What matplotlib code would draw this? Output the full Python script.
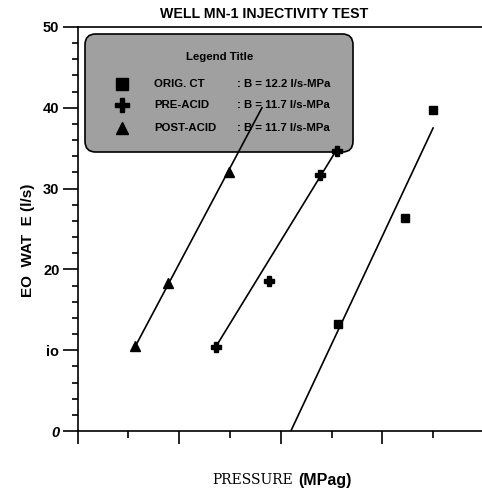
import matplotlib.pyplot as plt
from matplotlib.patches import FancyBboxPatch
from matplotlib.ticker import MultipleLocator

# data (pressure in MPag, flow rate in l/s)
orig_p = [5.12, 6.45, 6.99]
orig_q = [13.2, 26.4, 39.7]
orig_fit_p = [4.20, 7.00]
orig_fit_q = [0.0, 37.5]

pre_p = [2.73, 3.76, 4.78, 5.10]
pre_q = [10.4, 18.6, 31.7, 34.7]
pre_fit_p = [2.73, 5.12]
pre_fit_q = [10.5, 35.0]

post_p = [1.14, 1.79, 2.98]
post_q = [10.5, 18.35, 32.1]
post_fit_p = [1.14, 3.63]
post_fit_q = [10.5, 40.0]

series_names = ["ORIG. CT", "PRE-ACID", "POST-ACID"]
slope_texts = [": B = 12.2 l/s-MPa", ": B = 11.7 l/s-MPa", ": B = 11.7 l/s-MPa"]
ytick_vals = [0, 10, 20, 30, 40, 50]
ytick_labels = ["0", "io", "20", "30", "40", "50"]

W, H = 482, 490


def fx(px):
    return px / W


def fy(py):
    return 1 - py / H


plt.rcParams["font.family"] = ["Liberation Sans", "DejaVu Sans"]

fig = plt.figure(figsize=(W / 100, H / 100), dpi=100)
ax = fig.add_axes([fx(77.5), fy(431), 406.4 / W, 404 / H])

ax.plot(orig_fit_p, orig_fit_q, color="black", lw=1.2, zorder=3)
ax.plot(pre_fit_p, pre_fit_q, color="black", lw=1.2, zorder=3)
ax.plot(post_fit_p, post_fit_q, color="black", lw=1.2, zorder=3)
ax.plot(orig_p, orig_q, "s", color="black", ms=5.8, ls="none", zorder=4)
ax.plot(pre_p, pre_q, "P", color="black", ms=7, ls="none", zorder=4)
ax.plot(post_p, post_q, "^", color="black", ms=7, ls="none", zorder=4)

ax.set_xlim(0, 8)
ax.set_ylim(0, 50)
ax.xaxis.set_major_locator(MultipleLocator(2))
ax.xaxis.set_minor_locator(MultipleLocator(1))
ax.yaxis.set_minor_locator(MultipleLocator(2))
ax.set_yticks(ytick_vals)
ax.set_yticklabels(ytick_labels, fontweight="bold", fontsize=10.5)
ax.get_yticklabels()[0].set_fontstyle("italic")
ax.set_xticklabels([])
ax.tick_params(axis="y", which="major", length=11, width=1.2, pad=2)
ax.tick_params(axis="y", which="minor", length=4.5, width=1.2)
ax.tick_params(axis="x", which="major", length=9.5, width=1.2)
ax.tick_params(axis="x", which="minor", length=5, width=1.2)
ax.spines["right"].set_visible(False)
for s in ["left", "bottom", "top"]:
    ax.spines[s].set_linewidth(1.2)

# legend box, drawn by hand like the original
box = FancyBboxPatch((fx(85), fy(152)), fx(353) - fx(85), fy(34) - fy(152),
                     boxstyle="round,pad=0,rounding_size=0.022",
                     transform=fig.transFigure, facecolor="#a0a0a0",
                     edgecolor="black", lw=1.2, zorder=1, clip_on=False)
ax.add_artist(box)

fig.text(fx(220), fy(57), "Legend Title", ha="center", va="center",
         fontsize=8.2, fontweight="bold")
row_y = [84, 105.5, 128]
row_marker = [("s", 8), ("P", 9.5), ("^", 9)]
for name, slope, py, (m, ms) in zip(series_names, slope_texts, row_y, row_marker):
    ax.plot([fx(122)], [fy(py)], m, color="black", ms=ms,
            transform=fig.transFigure, clip_on=False, zorder=2)
    fig.text(fx(154), fy(py), name, ha="left", va="center",
             fontsize=8.2, fontweight="bold")
    fig.text(fx(237), fy(py), slope, ha="left", va="center",
             fontsize=8.2, fontweight="bold")

fig.text(fx(264), fy(14), "WELL MN-1 INJECTIVITY TEST", ha="center", va="center",
         fontsize=10.2, fontweight="bold")
fig.text(fx(28), fy(240), "EO  WAT  E (l/s)", rotation=90, ha="center", va="center",
         fontsize=11, fontweight="bold")
fig.text(fx(293), fy(480), "PRESSURE", ha="right", va="center",
         fontsize=10, family="DejaVu Serif")
fig.text(fx(298), fy(480), "(MPag)", ha="left", va="center",
         fontsize=11.5, fontweight="bold")

fig.savefig("out.png", dpi=100)
